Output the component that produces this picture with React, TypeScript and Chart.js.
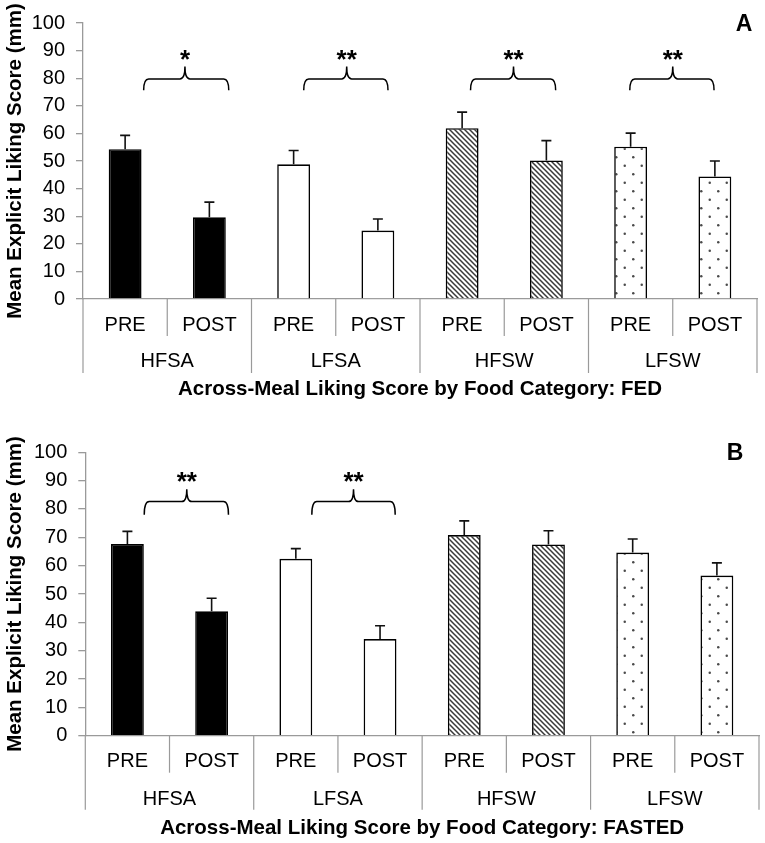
import React, { useEffect, useRef } from 'react';
import { Chart, registerables } from 'chart.js';
Chart.register(...registerables);

// ---------- data ----------
const groups = ['HFSA', 'LFSA', 'HFSW', 'LFSW'];
const phases = ['PRE', 'POST'];
const categoryLabels = ['PRE', 'POST', 'PRE', 'POST', 'PRE', 'POST', 'PRE', 'POST'];
const yMin = 0;
const yMax = 100;
const yStep = 10;

const fedMeans = [54.3, 29.6, 48.8, 24.8, 61.9, 50.2, 55.2, 44.4];
const fedSem = [5.0, 5.5, 5.0, 4.2, 5.8, 7.2, 4.9, 5.6];
const fastedMeans = [67.6, 43.9, 62.4, 34.1, 70.8, 67.5, 64.6, 56.5];
const fastedSem = [4.5, 4.6, 3.6, 4.7, 5.0, 4.8, 4.8, 4.5];

// significance brackets (x in category-index units, y in score units)
const fedBracketFrom = [0.22, 2.12, 4.1, 5.99];
const fedBracketTo = [1.23, 3.12, 5.11, 6.99];
const fedBracketMid = [0.71, 2.63, 4.61, 6.5];
const fedBracketStars = ['*', '**', '**', '**'];
const fedBracketLevels = [75.6, 79.7, 84.2]; // tips, bar, peak

const fastedBracketFrom = [0.2, 2.19];
const fastedBracketTo = [1.2, 3.18];
const fastedBracketMid = [0.705, 2.685];
const fastedBracketStars = ['**', '**'];
const fastedBracketLevels = [78.0, 82.6, 87.0];

const yTitle = 'Mean Explicit Liking Score (mm)';
const fedTitle = 'Across-Meal Liking Score by Food Category: FED';
const fastedTitle = 'Across-Meal Liking Score by Food Category: FASTED';

const FONT = "'Liberation Sans', Arial, Helvetica, sans-serif";
const AXIS_GRAY = '#9a9a9a';

function makeHatch(ctx: CanvasRenderingContext2D) {
  const s = 5;
  const c = document.createElement('canvas');
  c.width = s;
  c.height = s;
  const g = c.getContext('2d')!;
  g.fillStyle = '#ffffff';
  g.fillRect(0, 0, s, s);
  g.strokeStyle = '#3a3a3a';
  g.lineWidth = 1.5;
  g.beginPath();
  g.moveTo(-1, -1);
  g.lineTo(s + 1, s + 1);
  g.moveTo(-1, s - 1);
  g.lineTo(1, s + 1);
  g.moveTo(s - 1, -1);
  g.lineTo(s + 1, 1);
  g.stroke();
  return ctx.createPattern(c, 'repeat')!;
}

function makeDots(ctx: CanvasRenderingContext2D) {
  const s = 17;
  const c = document.createElement('canvas');
  c.width = s;
  c.height = s;
  const g = c.getContext('2d')!;
  g.fillStyle = '#ffffff';
  g.fillRect(0, 0, s, s);
  g.fillStyle = '#4a4a4a';
  g.beginPath();
  g.arc(4.25, 4.25, 1.25, 0, Math.PI * 2);
  g.fill();
  g.beginPath();
  g.arc(12.75, 12.75, 1.25, 0, Math.PI * 2);
  g.fill();
  return ctx.createPattern(c, 'repeat')!;
}

interface PanelCfg {
  means: number[];
  sem: number[];
  bFrom: number[];
  bTo: number[];
  bMid: number[];
  bStars: string[];
  bLevels: number[];
  title: string;
  panel: string;
  panelDx: number;
  panelDy: number;
  padTop: number;
  padRight: number;
  yWidth: number;
  xHeight: number;
  groupDy: number;
  titleDy: number;
}

function buildChart(canvas: HTMLCanvasElement, cfg: PanelCfg) {
  const ctx = canvas.getContext('2d')!;
  const fills = ['#000000', '#ffffff', makeHatch(ctx), makeDots(ctx)];
  const bg = categoryLabels.map((_, i) => fills[Math.floor(i / phases.length)]);

  const overlay = {
    id: 'overlay',
    afterDatasetsDraw(chart: any) {
      const c = chart.ctx as CanvasRenderingContext2D;
      const xs = chart.scales.x;
      const ys = chart.scales.y;
      const meta = chart.getDatasetMeta(0);
      c.save();
      // error bars
      c.strokeStyle = '#111';
      c.lineWidth = 1.6;
      meta.data.forEach((bar: any, i: number) => {
        const top = ys.getPixelForValue(cfg.means[i] + cfg.sem[i]);
        c.beginPath();
        c.moveTo(bar.x, bar.y);
        c.lineTo(bar.x, top);
        c.moveTo(bar.x - 5, top);
        c.lineTo(bar.x + 5, top);
        c.stroke();
      });
      // brackets
      const yTipEnd = ys.getPixelForValue(cfg.bLevels[0]);
      const yBar = ys.getPixelForValue(cfg.bLevels[1]);
      const yPeak = ys.getPixelForValue(cfg.bLevels[2]);
      const r = 5;
      c.strokeStyle = '#000';
      c.lineWidth = 1.5;
      cfg.bFrom.forEach((f, k) => {
        const x1 = xs.getPixelForValue(f);
        const x2 = xs.getPixelForValue(cfg.bTo[k]);
        const xm = xs.getPixelForValue(cfg.bMid[k]);
        c.beginPath();
        c.moveTo(x1, yTipEnd);
        c.quadraticCurveTo(x1, yBar, x1 + r, yBar);
        c.lineTo(xm - r, yBar);
        c.quadraticCurveTo(xm, yBar, xm, yPeak);
        c.quadraticCurveTo(xm, yBar, xm + r, yBar);
        c.lineTo(x2 - r, yBar);
        c.quadraticCurveTo(x2, yBar, x2, yTipEnd);
        c.stroke();
        c.fillStyle = '#000';
        c.font = `bold 26px ${FONT}`;
        c.textAlign = 'center';
        c.textBaseline = 'alphabetic';
        c.fillText(cfg.bStars[k], xm, yPeak + 1);
      });
      c.restore();
    },
    afterDraw(chart: any) {
      const c = chart.ctx as CanvasRenderingContext2D;
      const xs = chart.scales.x;
      const area = chart.chartArea;
      const axisY = area.bottom;
      const n = categoryLabels.length;
      const half = (xs.getPixelForValue(1) - xs.getPixelForValue(0)) / 2;
      c.save();
      // separators
      c.strokeStyle = AXIS_GRAY;
      c.lineWidth = 1.2;
      for (let b = 0; b <= n; b++) {
        const x = b === n ? xs.getPixelForValue(n - 1) + half : xs.getPixelForValue(b) - half;
        const long = b % phases.length === 0;
        c.beginPath();
        c.moveTo(x, axisY);
        c.lineTo(x, axisY + (long ? 74 : 37));
        c.stroke();
      }
      // phase labels
      c.fillStyle = '#000';
      c.textAlign = 'center';
      c.textBaseline = 'alphabetic';
      c.font = `20px ${FONT}`;
      categoryLabels.forEach((lab, i) => {
        c.fillText(lab, xs.getPixelForValue(i), axisY + 31.5);
      });
      // group labels
      groups.forEach((g, k) => {
        const xa = xs.getPixelForValue(k * 2);
        const xb = xs.getPixelForValue(k * 2 + 1);
        c.fillText(g, (xa + xb) / 2, axisY + cfg.groupDy);
      });
      // title
      c.font = `bold 20.5px ${FONT}`;
      c.fillText(cfg.title, (area.left + area.right) / 2, axisY + cfg.titleDy);
      // panel letter
      c.font = `bold 23px ${FONT}`;
      c.fillText(cfg.panel, area.right + cfg.panelDx, area.top + cfg.panelDy);
      c.restore();
    },
  };

  return new Chart(canvas, {
    type: 'bar',
    data: {
      labels: categoryLabels,
      datasets: [
        {
          data: cfg.means,
          backgroundColor: bg as any,
          borderColor: '#000',
          borderWidth: 1.6,
          barPercentage: 0.39,
          categoryPercentage: 1,
        },
      ],
    },
    options: {
      responsive: false,
      animation: false,
      events: [],
      layout: { padding: { top: cfg.padTop, right: cfg.padRight, left: 0, bottom: 0 } },
      plugins: { legend: { display: false }, tooltip: { enabled: false } },
      scales: {
        x: {
          ticks: { display: false },
          grid: { display: false },
          border: { display: true, color: AXIS_GRAY, width: 1.3 },
          afterFit: (s: any) => {
            s.height = cfg.xHeight;
          },
        },
        y: {
          min: yMin,
          max: yMax,
          ticks: {
            stepSize: yStep,
            padding: 11,
            color: '#000',
            font: { family: FONT, size: 20 },
          },
          grid: {
            display: true,
            drawOnChartArea: false,
            drawTicks: true,
            tickLength: 7,
            color: AXIS_GRAY,
            lineWidth: 1.3,
          },
          border: { display: true, color: AXIS_GRAY, width: 1.3 },
          title: {
            display: true,
            text: yTitle,
            color: '#000',
            font: { family: FONT, size: 20.5, weight: 'bold' },
            padding: { top: 3, bottom: 0 },
          },
          afterFit: (s: any) => {
            s.width = cfg.yWidth;
          },
        },
      },
    } as any,
    plugins: [overlay],
  });
}

const TOP_H = 405;
const BOT_H = 438;

export default function App() {
  const topRef = useRef<HTMLCanvasElement>(null);
  const botRef = useRef<HTMLCanvasElement>(null);

  useEffect(() => {
    const a = buildChart(topRef.current!, {
      means: fedMeans,
      sem: fedSem,
      bFrom: fedBracketFrom,
      bTo: fedBracketTo,
      bMid: fedBracketMid,
      bStars: fedBracketStars,
      bLevels: fedBracketLevels,
      title: fedTitle,
      panel: 'A',
      panelDx: -13,
      panelDy: 8,
      padTop: 15,
      padRight: 8,
      yWidth: 83,
      xHeight: TOP_H - 299,
      groupDy: 68.2,
      titleDy: 96.3,
    });
    const b = buildChart(botRef.current!, {
      means: fastedMeans,
      sem: fastedSem,
      bFrom: fastedBracketFrom,
      bTo: fastedBracketTo,
      bMid: fastedBracketMid,
      bStars: fastedBracketStars,
      bLevels: fastedBracketLevels,
      title: fastedTitle,
      panel: 'B',
      panelDx: -24,
      panelDy: 7.6,
      padTop: 452.3 - TOP_H,
      padRight: 6,
      yWidth: 85.3,
      xHeight: BOT_H - (735.7 - TOP_H),
      groupDy: 69.2,
      titleDy: 98.3,
    });
    return () => {
      a.destroy();
      b.destroy();
    };
  }, []);

  return (
    <div style={{ position: 'absolute', left: 0, top: 0, width: 765, height: 843, background: '#fff' }}>
      <canvas ref={topRef} width={765} height={TOP_H} style={{ position: 'absolute', left: 0, top: 0, width: 765, height: TOP_H }} />
      <canvas ref={botRef} width={765} height={BOT_H} style={{ position: 'absolute', left: 0, top: TOP_H, width: 765, height: BOT_H }} />
    </div>
  );
}
